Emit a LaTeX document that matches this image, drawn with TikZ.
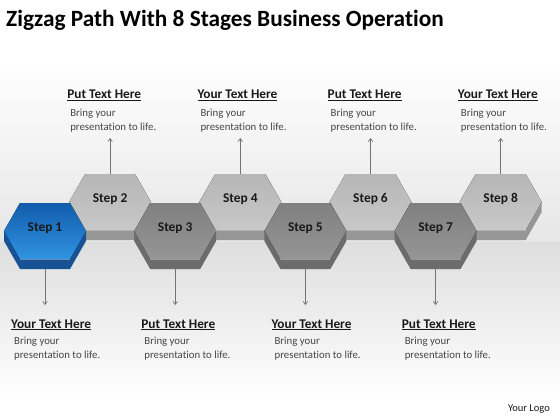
\documentclass[tikz,border=0pt]{standalone}
\usepackage{fontspec}
\setmainfont{Carlito}[Ligatures={NoCommon}]
\usepackage{tikz}
\usetikzlibrary{arrows.meta,positioning,calc}
\definecolor{StepBlueTop}{RGB}{18,92,172}
\definecolor{StepBlueBot}{RGB}{48,148,226}
\definecolor{StepBlueSide}{RGB}{22,82,148}
\definecolor{HighTop}{RGB}{182,182,182}
\definecolor{HighBot}{RGB}{200,200,200}
\definecolor{HighSide}{RGB}{150,150,150}
\definecolor{LowTop}{RGB}{128,128,128}
\definecolor{LowBot}{RGB}{150,150,150}
\definecolor{LowSide}{RGB}{108,108,108}
\definecolor{ArrowGray}{RGB}{115,115,115}
\definecolor{TextDark}{RGB}{25,25,25}
\definecolor{TextGray}{RGB}{70,70,70}
\definecolor{BackGray}{RGB}{230,230,230}
\definecolor{BandGray}{RGB}{222,222,222}

% one hexagon block: name, x, y, face top, face bottom, side colour
\newcommand{\hexblock}[6]{%
  \begin{scope}[shift={(#2,#3)}]
    \fill[#6] (-41,0) -- (-41,10) -- (-25,38) -- (25,38) -- (41,10) -- (41,0) -- cycle;
    \fill[top color=#4, bottom color=#5] (-41,0) -- (-25,-28) -- (25,-28) -- (41,0) -- (25,28) -- (-25,28) -- cycle;
    \draw[white, opacity=0.35, line width=0.6pt] (-25,28) -- (25,28);
  \end{scope}
  \coordinate (s#1) at (#2,#3);
  \node[steplabel] (lbl#1) at ($(s#1)+(0,-3)$) {Step #1};
}

\begin{document}
\begin{tikzpicture}[x=1pt,y=-1pt,
    pointer/.style={draw=ArrowGray, line width=0.7pt, -{Straight Barb[length=3pt,width=4.5pt]}},
    heading/.style={anchor=base west, inner sep=0pt, text=TextDark,
      font=\bfseries\fontsize{13.3}{15}\selectfont},
    blurb/.style={anchor=base west, inner sep=0pt, align=left, text=TextGray,
      font=\fontsize{10.8}{13.5}\selectfont},
    steplabel/.style={text=TextDark, font=\bfseries\fontsize{13.4}{15}\selectfont}]
  % background
  \useasboundingbox (0,0) rectangle (560,420);
  \fill[white] (0,0) rectangle (560,420);
  \fill[top color=white, bottom color=BackGray] (0,60) rectangle (560,242);
  \fill[top color=BandGray, bottom color=white] (0,242) rectangle (560,400);

  \node[anchor=base west, inner sep=0pt, text=black, font=\bfseries\fontsize{23.3}{27}\selectfont]
    (title) at (6,27) {Zigzag Path With 8 Stages Business Operation};

  % upper row
  \foreach \i/\hd in {2/Put,4/Your,6/Put,8/Your} {
    \pgfmathsetmacro\cx{45+65.1*(\i-1)}
    \hexblock{\i}{\cx}{202}{HighTop}{HighBot}{HighSide}
    \coordinate (top\i) at ($(s\i)+(0,-28)$);
    \coordinate (tip\i) at (\cx,138);
    \draw[pointer] (top\i) -- (tip\i);
    \node[heading] (head\i) at (\cx-43,99) {\underline{\hd{} Text Here}};
    \node[blurb] (note\i) at (\cx-40,130.5) {Bring your\\presentation to life.};
  }

  % lower row
  \foreach \i/\hd in {1/Your,3/Put,5/Your,7/Put} {
    \pgfmathsetmacro\cx{45+65.1*(\i-1)}
    \ifnum\i=1
      \hexblock{\i}{\cx}{231}{StepBlueTop}{StepBlueBot}{StepBlueSide}
    \else
      \hexblock{\i}{\cx}{231}{LowTop}{LowBot}{LowSide}
    \fi
    \coordinate (bot\i) at ($(s\i)+(0,38)$);
    \coordinate (tip\i) at (\cx,305);
    \draw[pointer] (bot\i) -- (tip\i);
    \node[heading] (head\i) at (\cx-34,328) {\underline{\hd{} Text Here}};
    \node[blurb] (note\i) at (\cx-31,358) {Bring your\\presentation to life.};
  }

  \node[anchor=base east, inner sep=0pt, text=TextDark, font=\fontsize{10.5}{12}\selectfont]
    (logo) at (550,411) {Your Logo};
\end{tikzpicture}
\end{document}
